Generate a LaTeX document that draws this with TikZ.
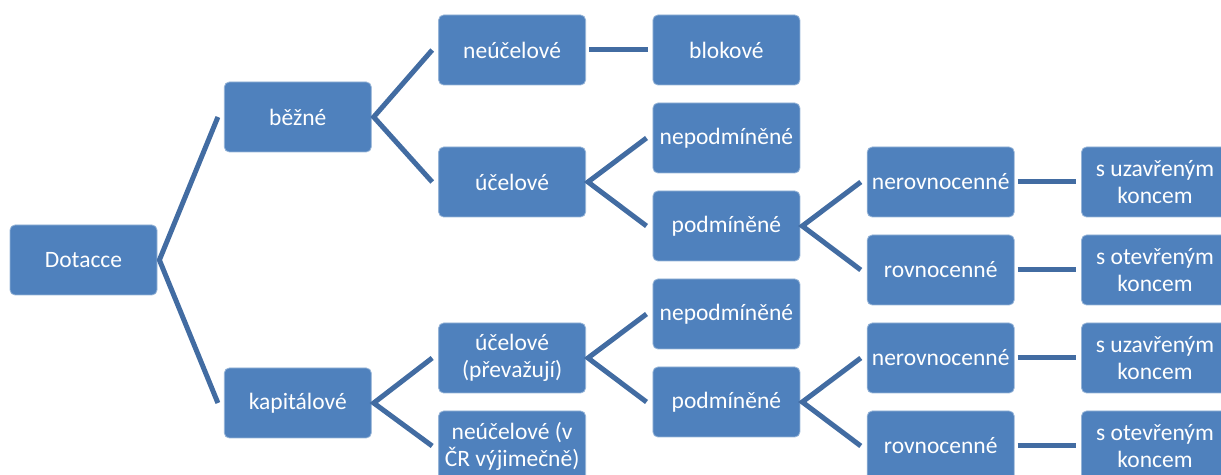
\documentclass[tikz,border=0pt]{standalone}
\usepackage{fontspec}
\setmainfont{Carlito}
\definecolor{boxfill}{RGB}{79,129,189}
\definecolor{boxedge}{RGB}{150,180,215}
\definecolor{linecol}{RGB}{66,108,162}

\begin{document}
\begin{tikzpicture}[x=0.5pt,y=-0.5pt,
	cat/.style={draw=boxedge, line width=0.4pt, fill=boxfill, rounded corners=2.5pt,
		minimum width=73.5pt, minimum height=35pt, inner sep=1pt, text=white,
		align=center, font=\fontsize{11.75}{13.5}\selectfont},
	branch/.style={draw=linecol, line width=2.5pt}]

	% frame of the picture (right and bottom boxes are cut off)
	\useasboundingbox (0,0) rectangle (1221,475);
	\clip (0,0) rectangle (1221,475);

	% Draw the root and the two main kinds
	\node[cat] (root) at (83.5,260) {Dotacce};
	\node[cat] (bezne) at (297.8,117) {běžné};
	\node[cat] (kapital) at (297.8,403) {kapitálové};

	% Draw the current branch
	\node[cat] (neucel) at (512.1,50) {neúčelové};
	\node[cat] (ucel) at (512.1,182) {účelové};
	\node[cat] (blok) at (726.4,50) {blokové};
	\node[cat] (nepod) at (726.4,138) {nepodmíněné};
	\node[cat] (pod) at (726.4,226) {podmíněné};
	\node[cat] (nerov) at (940.7,182) {nerovnocenné};
	\node[cat] (rov) at (940.7,270) {rovnocenné};
	\node[cat] (uzav) at (1155,182) {s uzavřeným\\koncem};
	\node[cat] (otev) at (1155,270) {s otevřeným\\koncem};

	% Draw the capital branch
	\node[cat] (ucelk) at (512.1,358) {účelové\\(převažují)};
	\node[cat] (neucelk) at (512.1,446) {neúčelové (v\\ČR výjimečně)};
	\node[cat] (nepodk) at (726.4,314) {nepodmíněné};
	\node[cat] (podk) at (726.4,402) {podmíněné};
	\node[cat] (nerovk) at (940.7,358) {nerovnocenné};
	\node[cat] (rovk) at (940.7,446) {rovnocenné};
	\node[cat] (uzavk) at (1155,358) {s uzavřeným\\koncem};
	\node[cat] (otevk) at (1155,446) {s otevřeným\\koncem};

	% Draw the forks
	\foreach \a/\p/\b in {bezne/root/kapital, neucel/bezne/ucel, nepod/ucel/pod,
		nerov/pod/rov, ucelk/kapital/neucelk, nepodk/ucelk/podk, nerovk/podk/rovk}
		\draw[branch] ([xshift=-3pt]\a.west) -- ([xshift=1pt]\p.east) -- ([xshift=-3pt]\b.west);

	% Draw the straight links
	\foreach \a/\b in {neucel/blok, nerov/uzav, rov/otev, nerovk/uzavk, rovk/otevk}
		\draw[branch] ([xshift=1.5pt]\a.east) -- ([xshift=-2.5pt]\b.west);
\end{tikzpicture}
\end{document}
